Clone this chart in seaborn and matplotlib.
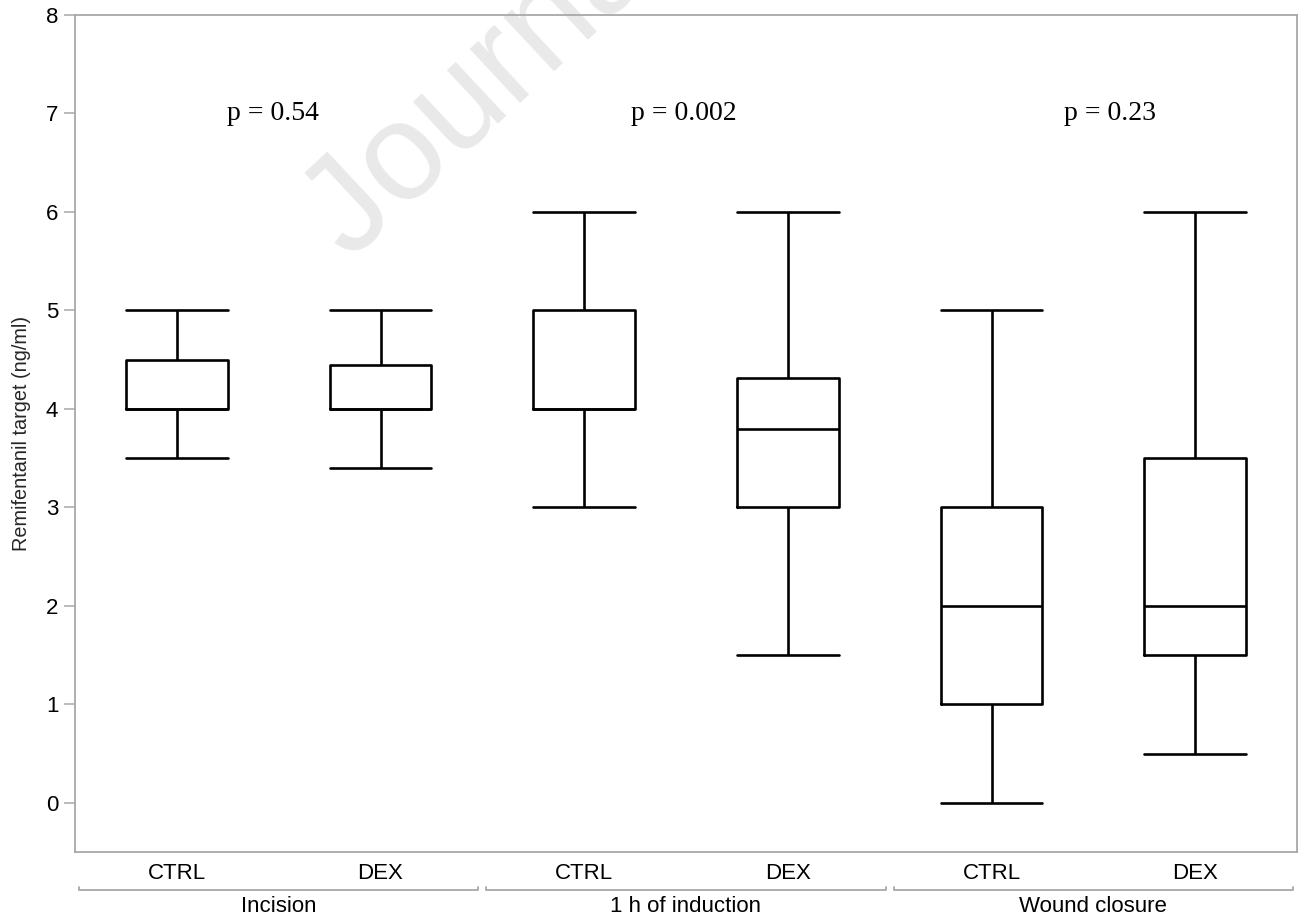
import matplotlib
matplotlib.use("Agg")
import matplotlib.pyplot as plt
import matplotlib.transforms as mtransforms
import numpy as np
import pandas as pd
import seaborn as sns

# Five-number summaries (min, Q1, median, Q3, max) of remifentanil target, ng/ml
incision_ctrl = [3.5, 4.0, 4.0, 4.5, 5.0]
incision_dex = [3.4, 4.0, 4.0, 4.45, 5.0]
induction_ctrl = [3.0, 4.0, 4.0, 5.0, 6.0]
induction_dex = [1.5, 3.0, 3.8, 4.31, 6.0]
closure_ctrl = [0.0, 1.0, 2.0, 3.0, 5.0]
closure_dex = [0.5, 1.5, 2.0, 3.5, 6.0]

timepoints = ["Incision", "1 h of induction", "Wound closure"]
groups = ["CTRL", "DEX"]
p_values = ["p = 0.54", "p = 0.002", "p = 0.23"]
y_ticks = [0, 1, 2, 3, 4, 5, 6, 7, 8]

series = [incision_ctrl, incision_dex, induction_ctrl,
          induction_dex, closure_ctrl, closure_dex]
keys = [f"{t} {g}" for t in timepoints for g in groups]
df = pd.DataFrame({
    "box": np.repeat(keys, [len(s) for s in series]),
    "value": np.concatenate(series),
})

sns.set_theme(style="white")
plt.rcParams["font.family"] = ["Liberation Sans", "DejaVu Sans"]

fig = plt.figure(figsize=(12.98, 9.22), dpi=100)
ax = fig.add_axes([75 / 1298, 70 / 922, 1222 / 1298, 837 / 922])
ax.set_facecolor("none")

line_kw = dict(color="black", linewidth=1.9)
sns.boxplot(data=df, x="box", y="value", order=keys, ax=ax,
            width=0.5, whis=(0, 100), fill=False, color="black",
            linewidth=1.9, showfliers=False,
            boxprops=line_kw, whiskerprops=line_kw,
            capprops=line_kw, medianprops=line_kw)

# caps as wide as the boxes
for ln in ax.lines:
    xd = np.asarray(ln.get_xdata(), dtype=float)
    yd = np.asarray(ln.get_ydata(), dtype=float)
    if len(xd) == 2 and yd[0] == yd[1] and abs(xd[1] - xd[0]) < 0.4:
        c = xd.mean()
        ln.set_xdata([c - 0.25, c + 0.25])

ax.set_xlim(-0.5, 5.5)
ax.set_ylim(-0.5, 8)
ax.set_yticks(y_ticks)
ax.set_xticks(range(len(keys)))
ax.set_xticklabels([g for _ in timepoints for g in groups])
ax.set_xlabel("")
ax.set_ylabel("Remifentanil target (ng/ml)", fontsize=14.3, labelpad=11)

spine_col = "#a8a8a8"
for sp in ax.spines.values():
    sp.set_visible(True)
    sp.set_color(spine_col)
    sp.set_linewidth(1.3)
ax.tick_params(axis="y", which="major", left=True, length=8, width=1.1,
               color=spine_col, labelsize=16, pad=4, labelcolor="black")
ax.tick_params(axis="x", which="major", bottom=False, length=0,
               labelsize=16, pad=8, labelcolor="black")

# p-values above each timepoint
p_x = [0.47, 2.49, 4.58]
for x, txt in zip(p_x, p_values):
    ax.text(x, 7, txt, ha="center", va="center", fontsize=20,
            family=["Liberation Serif", "DejaVu Serif"], color="black",
            bbox=dict(facecolor="white", edgecolor="none", pad=2))

# timepoint brackets under the group labels
trans = mtransforms.blended_transform_factory(ax.transData, ax.transAxes)
y_br = -0.0454
y_up = -0.0418
for i, name in enumerate(timepoints):
    x0 = 2 * i - 0.48
    x1 = 2 * i + 1.48
    ax.plot([x0, x0, x1, x1], [y_up, y_br, y_br, y_up], transform=trans,
            color=spine_col, linewidth=1.3, clip_on=False)
    ax.text(2 * i + 0.5, -0.0657, name, transform=trans, ha="center",
            va="center", fontsize=16, color="black")

# faint watermark behind the plot
fig.text(350 / 1298, 1 - 262 / 922, "Journal Pre-proof", rotation=43,
         rotation_mode="anchor", ha="left", va="baseline", fontsize=100,
         color="#e9e9e9", zorder=-5)

fig.savefig("out.png", dpi=100, facecolor="white")
